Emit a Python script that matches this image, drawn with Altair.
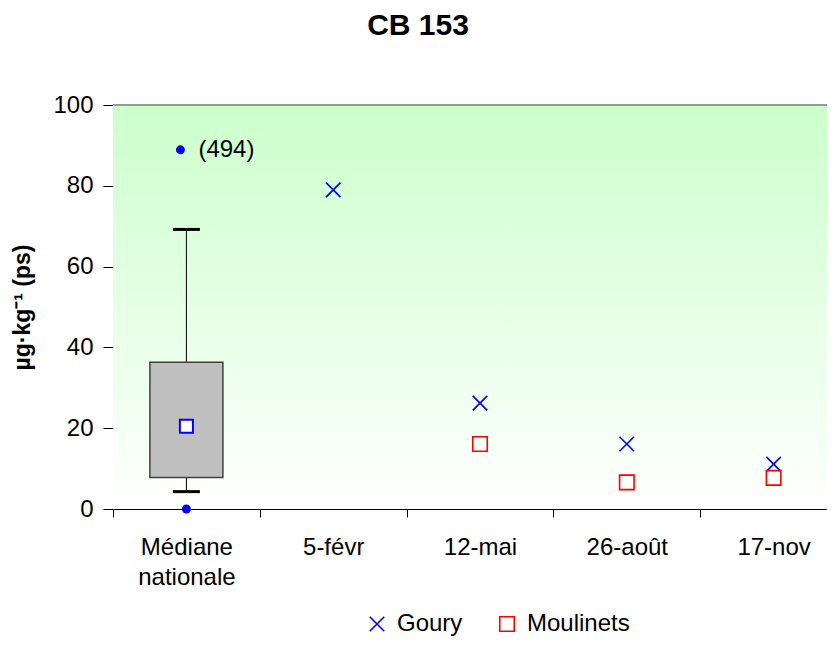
import altair as alt
import pandas as pd

categories = ["Médiane nationale", "5-févr", "12-mai", "26-août", "17-nov"]

# national distribution (box)
box_cat = ["Médiane nationale"]
box_q1 = [7.8]
box_q3 = [36.3]
box_med = [20.5]
box_wlo = [4.3]
box_whi = [69.2]
box_min = [0.0]
box_max = [88.9]
max_label = ["(494)"]

# station series
goury_dates = ["5-févr", "12-mai", "26-août", "17-nov"]
goury_values = [79.0, 26.2, 16.1, 11.1]
moulinets_dates = ["12-mai", "26-août", "17-nov"]
moulinets_values = [16.1, 6.6, 7.7]

W, H = 714, 404
XRANGE = 734  # the last band runs past the right edge, as in the original
FONT = "Liberation Sans"

box = pd.DataFrame({
    "cat": box_cat, "q1": box_q1, "q3": box_q3, "med": box_med,
    "wlo": box_wlo, "whi": box_whi, "mn": box_min, "mx": box_max,
    "lbl": max_label,
})
pts = pd.concat([
    pd.DataFrame({"cat": goury_dates, "val": goury_values, "serie": "Goury"}),
    pd.DataFrame({"cat": moulinets_dates, "val": moulinets_values, "serie": "Moulinets"}),
])

xenc = alt.X(
    "cat:N",
    scale=alt.Scale(domain=categories, range=[0, XRANGE], paddingInner=0, paddingOuter=0),
    axis=alt.Axis(
        title=None, labelAngle=0, tickBand="extent", tickSize=8,
        labelPadding=18, labelFontSize=24, labelFont=FONT, labelColor="black",
        labelLineHeight=30, tickColor="black", domainColor="black",
        labelExpr="datum.label == 'Médiane nationale' ? ['Médiane', 'nationale'] : datum.label",
    ),
)
yscale = alt.Scale(domain=[0, 100], nice=False)
yaxis = alt.Axis(
    title="µg·kg⁻¹ (ps)", titleFont=FONT, titleFontSize=23, titleFontWeight="bold",
    titleColor="black", titlePadding=18, values=[0, 20, 40, 60, 80, 100],
    tickSize=10, labelPadding=10, labelFontSize=24, labelFont=FONT,
    labelColor="black", tickColor="black", domainColor="black", grid=False,
)

bg = alt.Chart(pd.DataFrame({"a": [0]})).mark_rect(
    color=alt.LinearGradient(
        gradient="linear", x1=0, x2=0, y1=0, y2=1,
        stops=[alt.GradientStop(offset=0, color="#ccffcc"),
               alt.GradientStop(offset=1, color="#ffffff")],
    )
).encode(x=alt.value(0), x2=alt.value(W), y=alt.value(0), y2=alt.value(H))

top_line = alt.Chart(pd.DataFrame({"a": [0]})).mark_rule(
    color="#999999", strokeWidth=2
).encode(y=alt.datum(100, scale=yscale))

base = alt.Chart(box).encode(x=xenc)

upper_whisker = base.mark_rule(color="black", strokeWidth=1).encode(
    y=alt.Y("q3:Q", scale=yscale, axis=yaxis), y2="whi:Q")
lower_whisker = base.mark_rule(color="black", strokeWidth=1).encode(
    y=alt.Y("wlo:Q", scale=yscale), y2="q1:Q")
body = base.mark_bar(size=73, fill="#c0c0c0", stroke="#404040", strokeWidth=1.5).encode(
    y=alt.Y("q1:Q", scale=yscale), y2="q3:Q")
cap_hi = base.mark_tick(thickness=3, size=27, color="black", opacity=1).encode(
    y=alt.Y("whi:Q", scale=yscale))
cap_lo = base.mark_tick(thickness=3, size=27, color="black", opacity=1).encode(
    y=alt.Y("wlo:Q", scale=yscale))
median = base.mark_point(shape="square", size=170, fill="white", filled=True,
                         stroke="#0000ff", strokeWidth=2, opacity=1).encode(
    y=alt.Y("med:Q", scale=yscale))
dot_min = base.mark_circle(size=80, color="#0000ff", opacity=1).encode(
    y=alt.Y("mn:Q", scale=yscale))
dot_max = base.mark_circle(size=80, color="#0000ff", opacity=1, xOffset=-6).encode(
    y=alt.Y("mx:Q", scale=yscale))
max_text = base.mark_text(align="left", baseline="middle", dx=12, fontSize=24,
                          font=FONT, color="black").encode(
    y=alt.Y("mx:Q", scale=yscale), text="lbl:N")

points = alt.Chart(pts).mark_point(filled=False, strokeWidth=1.6, size=210, opacity=1).encode(
    x=xenc,
    y=alt.Y("val:Q", scale=yscale),
    color=alt.Color("serie:N", scale=alt.Scale(domain=["Goury", "Moulinets"],
                                               range=["#0000ff", "#ff0000"]),
                    legend=alt.Legend(
                        title=None, orient="none", legendX=252, legendY=507,
                        direction="horizontal", labelFontSize=24, labelFont=FONT,
                        labelColor="black", symbolSize=210, symbolStrokeWidth=1.6,
                        labelOffset=8, columnPadding=32, symbolFillColor="transparent",
                    )),
    shape=alt.Shape("serie:N", scale=alt.Scale(domain=["Goury", "Moulinets"],
                                               range=["M-1,-1L1,1M1,-1L-1,1", "square"]),
                    legend=None),
)

chart = alt.layer(
    bg, top_line, upper_whisker, lower_whisker, body, cap_hi, cap_lo,
    median, dot_min, dot_max, max_text, points,
).properties(
    width=W, height=H,
    autosize=alt.AutoSizeParams(type="none"),
    padding={"left": 105, "top": 97, "right": 0, "bottom": 128},
    title=alt.TitleParams("CB 153", font=FONT, fontSize=30, fontWeight="bold",
                          color="black", anchor="middle", dx=-52, offset=52),
).configure_view(stroke=None)

chart.save("out.html", embed_options={"renderer": "svg", "actions": False})
